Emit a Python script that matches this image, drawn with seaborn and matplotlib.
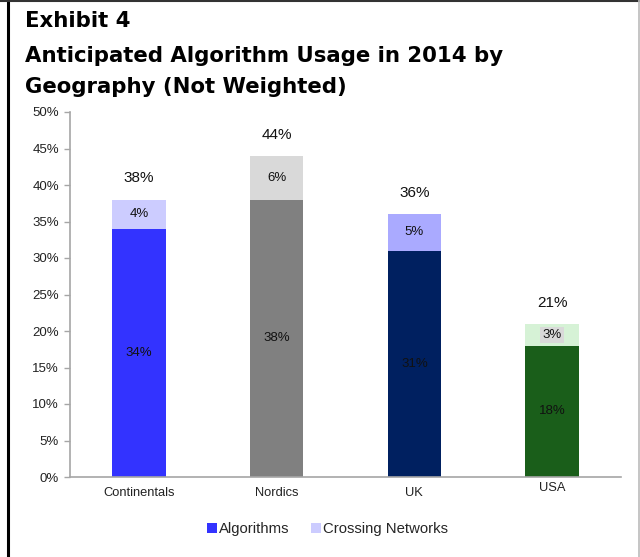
import matplotlib
matplotlib.use("Agg")
import matplotlib.pyplot as plt
from matplotlib.lines import Line2D
import seaborn as sns
import pandas as pd

# Survey results (percent of respondents)
regions = ["Continentals", "Nordics", "UK", "USA"]
algorithms = [34, 38, 31, 18]
crossing_networks = [4, 6, 5, 3]
totals = [a + c for a, c in zip(algorithms, crossing_networks)]
y_ticks = [0, 5, 10, 15, 20, 25, 30, 35, 40, 45, 50]

# Each region has its own colour pair (algorithms, crossing networks)
algo_colors = ["#3333FF", "#808080", "#002060", "#1A5E1A"]
cross_colors = ["#CCCCFF", "#D9D9D9", "#AAAAFF", "#D6F2D6"]

df = pd.DataFrame({"region": regions, "algorithms": algorithms,
                   "crossing": crossing_networks, "total": totals})

sns.set_theme(style="white")
plt.rcParams["font.family"] = ["Liberation Sans", "DejaVu Sans"]

fig = plt.figure(figsize=(6.4, 5.57), dpi=100)
ax = fig.add_axes([70 / 640, 80 / 557, 551 / 640, 365 / 557])

# Stacked bars: full height in the light colour, algorithm share on top of it
sns.barplot(data=df, x="region", y="total", hue="region",
            palette=dict(zip(regions, cross_colors)), legend=False,
            width=0.39, saturation=1, ax=ax, linewidth=0)
sns.barplot(data=df, x="region", y="algorithms", hue="region",
            palette=dict(zip(regions, algo_colors)), legend=False,
            width=0.39, saturation=1, ax=ax, linewidth=0)

ax.set_xlim(-0.5, 3.5)
ax.set_ylim(0, 50)
ax.set_yticks(y_ticks)
ax.set_yticklabels([f"{t}%" for t in y_ticks], fontsize=9.5, color="#222222")
ax.set_xticks(range(len(regions)))
ax.set_xticklabels(regions, fontsize=9.3, color="#222222")
ax.set_xlabel("")
ax.set_ylabel("")
for lbl in ax.get_xticklabels():
    if lbl.get_text() == "USA":
        lbl.set_y(0.012)

for side in ["top", "right"]:
    ax.spines[side].set_visible(False)
for side in ["left", "bottom"]:
    ax.spines[side].set_color("#A6A6A6")
    ax.spines[side].set_linewidth(1.2)
ax.tick_params(axis="y", which="major", length=4, width=1, color="#A6A6A6",
               left=True, pad=4)
ax.tick_params(axis="x", length=0, pad=7)

# Value labels
for i, (a, c, t) in enumerate(zip(algorithms, crossing_networks, totals)):
    ax.text(i, a / 2, f"{a}%", ha="center", va="center", fontsize=9.5,
            color="#111111")
    box = None
    if regions[i] == "USA":
        box = dict(facecolor="#D9D9D9", edgecolor="none", pad=1.5)
    ax.text(i, a + c / 2, f"{c}%", ha="center", va="center", fontsize=9.5,
            color="#111111", bbox=box)
    ax.text(i, t + 2.9, f"{t}%", ha="center", va="center", fontsize=11,
            color="#111111")

# Legend
handles = [Line2D([], [], marker="s", linestyle="none", markersize=6.5,
                  markerfacecolor=algo_colors[0], markeredgewidth=0),
           Line2D([], [], marker="s", linestyle="none", markersize=6.5,
                  markerfacecolor=cross_colors[0], markeredgewidth=0)]
fig.legend(handles, ["Algorithms", "Crossing Networks"], loc="center",
           bbox_to_anchor=(328 / 640, 1 - 529 / 557), ncol=2, frameon=False,
           fontsize=10.7, handlelength=0.6, handletextpad=0.15,
           columnspacing=1.5)

# Title block
title_kw = dict(fontsize=15.3, fontweight="bold", color="#000000",
                family="DejaVu Sans", ha="left", va="center")
fig.text(25 / 640, 1 - 21 / 557, "Exhibit 4", **title_kw)
fig.text(25 / 640, 1 - 56 / 557, "Anticipated Algorithm Usage in 2014 by",
         **title_kw)
fig.text(25 / 640, 1 - 87 / 557, "Geography (Not Weighted)", **title_kw)

# Frame around the exhibit
fig.add_artist(Line2D([7.5 / 640, 7.5 / 640], [0, 1], transform=fig.transFigure,
                      color="#000000", linewidth=2.2))
fig.add_artist(Line2D([0, 1], [1 - 0.8 / 557, 1 - 0.8 / 557],
                      transform=fig.transFigure, color="#333333", linewidth=1.5))
fig.add_artist(Line2D([638.5 / 640, 638.5 / 640], [0, 1],
                      transform=fig.transFigure, color="#BBBBBB", linewidth=1.2))

fig.savefig("out.png", dpi=100)
